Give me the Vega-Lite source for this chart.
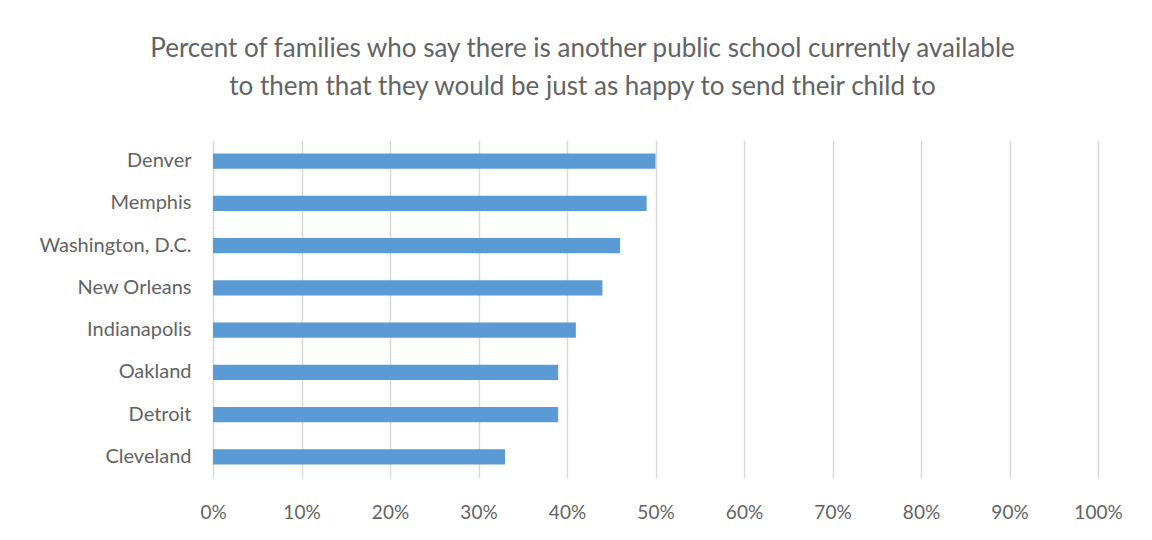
{
  "$schema": "https://vega.github.io/schema/vega-lite/v6.json",
  "autosize": "none",
  "padding": {"left": 213, "top": 140, "right": 54, "bottom": 62},
  "width": 885,
  "height": 338,
  "background": "white",
  "title": {
    "text": ["Percent of families who say there is another public school currently available", "to them that they would be just as happy to send their child to"],
    "font": "Lato",
    "fontSize": 26,
    "fontWeight": "normal",
    "color": "#636363",
    "lineHeight": 38,
    "anchor": "middle",
    "dx": -73,
    "offset": 40
  },
  "data": {
    "values": [
      {"city": "Denver", "pct": 0.50},
      {"city": "Memphis", "pct": 0.49},
      {"city": "Washington, D.C.", "pct": 0.46},
      {"city": "New Orleans", "pct": 0.44},
      {"city": "Indianapolis", "pct": 0.41},
      {"city": "Oakland", "pct": 0.39},
      {"city": "Detroit", "pct": 0.39},
      {"city": "Cleveland", "pct": 0.33}
    ]
  },
  "mark": {"type": "bar", "color": "#5b9bd5"},
  "encoding": {
    "y": {
      "field": "city",
      "type": "nominal",
      "sort": null,
      "title": null,
      "scale": {"paddingInner": 0.64, "paddingOuter": 0.32},
      "axis": {"domain": false, "ticks": false, "labelFont": "Lato", "labelFontSize": 20, "labelColor": "#636363", "labelPadding": 22}
    },
    "x": {
      "field": "pct",
      "type": "quantitative",
      "title": null,
      "scale": {"domain": [0, 1]},
      "axis": {"format": ".0%", "values": [0,0.1,0.2,0.3,0.4,0.5,0.6,0.7,0.8,0.9,1], "labelOverlap": false, "labelBound": false, "labelFlush": false, "domain": false, "ticks": false, "grid": true, "gridColor": "#d9d9d9", "gridWidth": 1.5, "labelFont": "Lato", "labelFontSize": 19, "labelColor": "#636363", "labelPadding": 25}
    }
  },
  "config": {"view": {"stroke": null}}
}
